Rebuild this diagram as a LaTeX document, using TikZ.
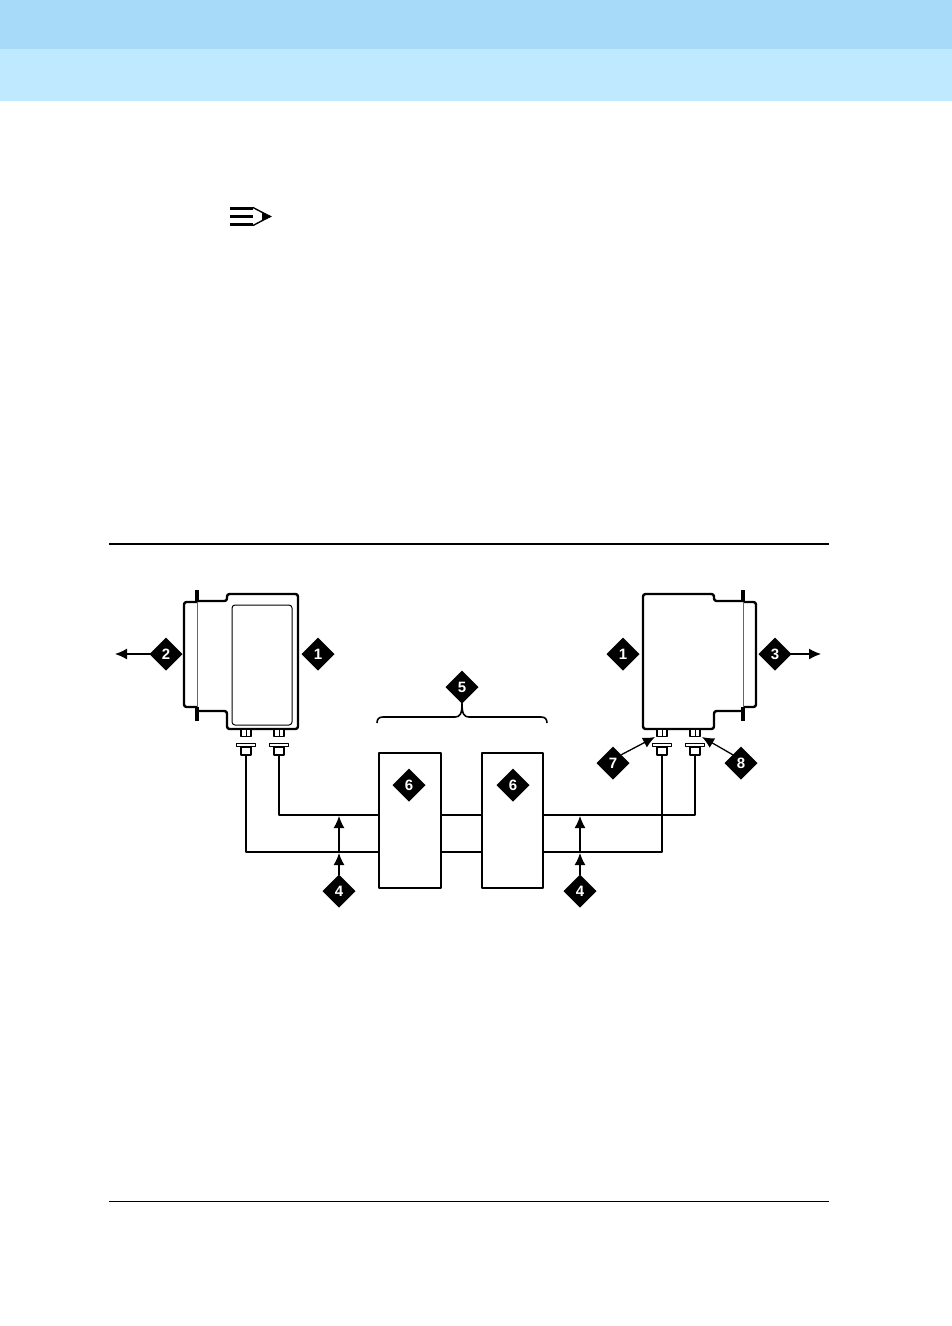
\documentclass[tikz,border=0pt]{standalone}
\usepackage{fontspec}
\setsansfont{Liberation Sans}
\usetikzlibrary{positioning,shapes.geometric,arrows.meta}
\definecolor{bandtop}{HTML}{A6DAF8}
\definecolor{bandlow}{HTML}{BFE9FF}
\begin{document}
\begin{tikzpicture}[x=1pt,y=-1pt,line join=round]
  \tikzstyle{callout}=[diamond,fill=black,text=white,inner sep=0pt,outer sep=0pt,minimum size=33pt,font=\sffamily\bfseries\fontsize{15}{15}\selectfont]
  \tikzstyle{pointer}=[-{Latex[length=12pt,width=11pt]},line width=1.3pt]
  \tikzstyle{unit}=[draw,line width=2.4pt,rounded corners=2.5pt]
  \tikzstyle{repeater}=[draw,line width=2.2pt,outer sep=0pt,minimum width=62pt,minimum height=135pt,inner sep=0pt]
  \tikzstyle{stub}=[draw,line width=1.1pt,fill=white,minimum width=10pt,minimum height=7pt,inner sep=0pt]
  \tikzstyle{plugcap}=[draw,line width=1.1pt,fill=white,minimum width=19pt,minimum height=3.5pt,inner sep=0pt]
  \tikzstyle{plugbody}=[draw,line width=1.1pt,fill=white,minimum width=10pt,minimum height=8pt,inner sep=0pt]
  \useasboundingbox (0,0) rectangle (952,1326);
  % page bands and rules
  \fill[bandtop] (0,0) rectangle (952,49);
  \fill[bandlow] (0,49) rectangle (952,101);
  \coordinate (rulea) at (109,544);
  \coordinate (ruleb) at (829,544);
  \coordinate (rulec) at (109,1201);
  \coordinate (ruled) at (829,1201);
  \draw[line width=1.6pt] (rulea) -- (ruleb);
  \draw[line width=0.9pt] (rulec) -- (ruled);
  % note pencil
  \fill (230,207) rectangle (253,209.5);
  \fill (230,215) rectangle (253,218);
  \fill (230,223) rectangle (253,226);
  \draw[line width=1.4pt] (253,207.5) -- (270,216.5) -- (253,225.5);
  \fill (262,212) -- (272,216.5) -- (262,221) -- cycle;
  % left unit
  \draw[unit] (197,602) -- (184,602) -- (184,707) -- (197,707);
  \draw[unit] (197,601) -- (227,601) -- (227,594) -- (298,594) -- (298,729) -- (227,729) -- (227,711) -- (197,711);
  \draw[line width=3.2pt] (197,590) -- (197,602);
  \draw[line width=3.2pt] (197,707) -- (197,721);
  \draw[line width=1pt,black!60] (197,602) -- (197,707);
  \draw[line width=1pt,rounded corners=3pt] (232,605) rectangle (292,725);
  % right unit
  \draw[unit] (743,602) -- (756,602) -- (756,707) -- (743,707);
  \draw[unit] (743,601) -- (714,601) -- (714,594) -- (643,594) -- (643,729) -- (714,729) -- (714,711) -- (743,711);
  \draw[line width=3.2pt] (743,590) -- (743,602);
  \draw[line width=3.2pt] (743,707) -- (743,721);
  \draw[line width=1pt,black!60] (743,602) -- (743,707);
  % connectors
  \foreach \nm/\xx in {la/246,lb/279,ra/662,rb/695}{
    \node[stub] (stub\nm) at (\xx,733) {};
    \draw[line width=0.8pt] (stub\nm.north) -- (stub\nm.south);
    \node[plugcap] (cap\nm) at (\xx,745) {};
    \node[plugbody] (plug\nm) at (\xx,751) {};
  }
  % repeaters
  \node[repeater] (repa) at (410,820.5) {};
  \node[repeater,minimum width=61pt,right=41pt of repa] (repb) {};
  \coordinate (upper) at (0,815);
  \coordinate (lower) at (0,852);
  \draw[line width=2pt] (pluglb.south) |- (repa.west |- upper);
  \draw[line width=2.5pt] (plugla.south) |- (repa.west |- lower);
  \draw[line width=2pt] (repa.east |- upper) -- (repb.west |- upper);
  \draw[line width=2.5pt] (repa.east |- lower) -- (repb.west |- lower);
  \draw[line width=2pt] (repb.east |- upper) -| (plugrb.south);
  \draw[line width=2.5pt] (repb.east |- lower) -| (plugra.south);
  % callouts
  \node[callout] (onel) at (318,654) {1};
  \node[callout] (twol) at (166,654) {2};
  \node[callout] (oner) at (623,654) {1};
  \node[callout] (three) at (775,654) {3};
  \node[callout] (five) at (462,687) {5};
  \node[callout] (sixa) at (409,785) {6};
  \node[callout] (sixb) at (513,785) {6};
  \node[callout] (foura) at (339,891) {4};
  \node[callout] (fourb) at (580,891) {4};
  \node[callout] (seven) at (613,763) {7};
  \node[callout] (eight) at (741,763) {8};
  \coordinate (twoend) at (115,654);
  \coordinate (threeend) at (821,654);
  \draw[pointer] ([xshift=2pt]twol.west) -- (twoend);
  \draw[pointer] ([xshift=-2pt]three.east) -- (threeend);
  \coordinate (sevenend) at (655,737);
  \coordinate (eightend) at (702,737);
  \draw[pointer] (seven.north east) -- (sevenend);
  \draw[pointer] (eight.north west) -- (eightend);
  \draw[pointer] (foura.north) -- (foura |- 0,853);
  \draw[pointer] (foura |- 0,853) -- (foura |- 0,816);
  \draw[pointer] (fourb.north) -- (fourb |- 0,853);
  \draw[pointer] (fourb |- 0,853) -- (fourb |- 0,816);
  % group brace
  \coordinate (bracel) at (377,723);
  \coordinate (bracer) at (547,723);
  \draw[line width=1.6pt] (bracel) .. controls (377,719) and (379,717) .. (383,717) -- (455,717) .. controls (460,717) and (462,714) .. (five.south) .. controls (462,714) and (464,717) .. (469,717) -- (541,717) .. controls (545,717) and (547,719) .. (bracer);
\end{tikzpicture}
\end{document}
